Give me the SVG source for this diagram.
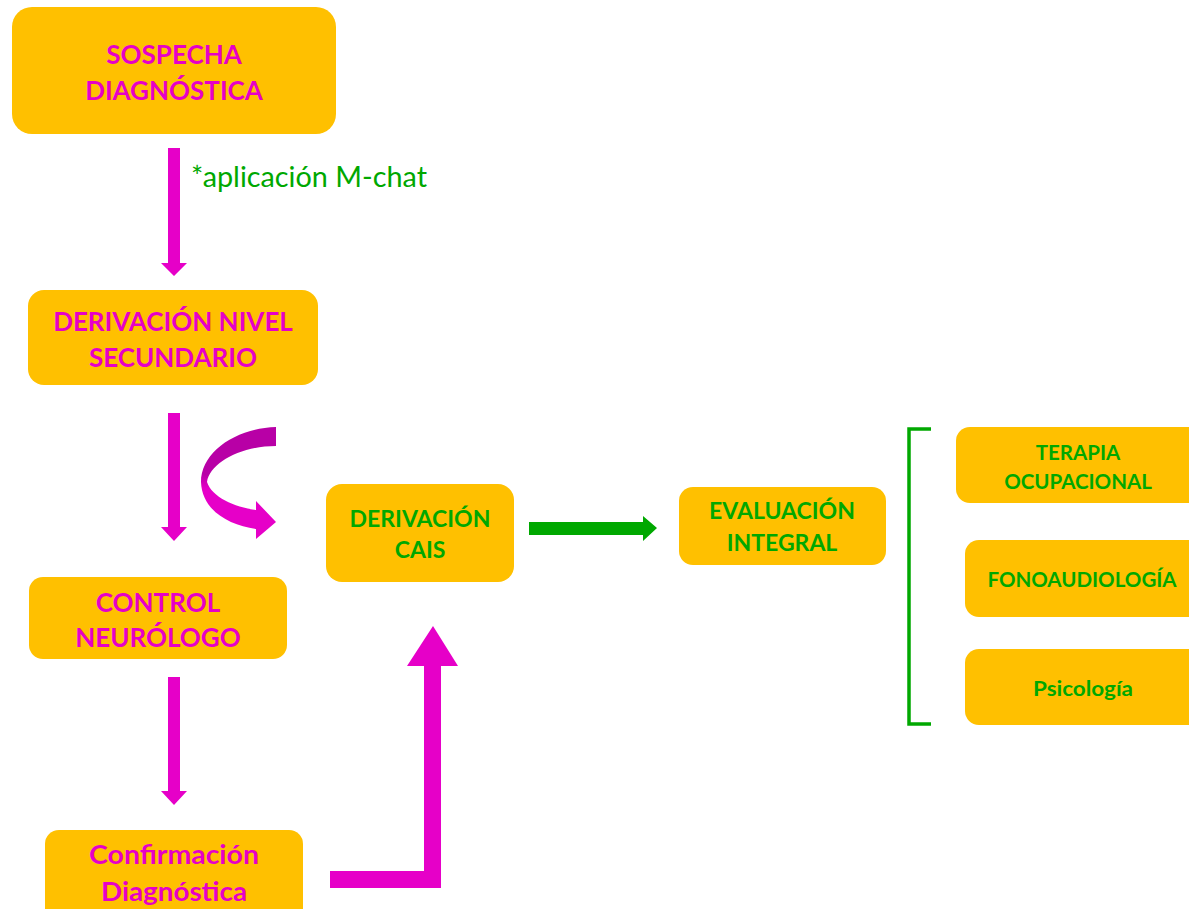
<svg xmlns="http://www.w3.org/2000/svg" width="1189" height="909" viewBox="0 0 1189 909">
<style>
.box{fill:#FFC000}
.t{font-family:Lato,"Liberation Sans",sans-serif;font-weight:bold;text-anchor:middle}
.m{fill:#E600C8}
.g{fill:#00A800}
.big{font-size:26px}
.mid{font-size:23px}
.sm{font-size:20.5px}
.arrow{fill:#E600C8}
</style>
<defs>
<linearGradient id="cg" x1="0" y1="427" x2="0" y2="540" gradientUnits="userSpaceOnUse">
<stop offset="0" stop-color="#B800A6"/>
<stop offset="0.42" stop-color="#B800A6"/>
<stop offset="0.55" stop-color="#E600C8"/>
<stop offset="1" stop-color="#E600C8"/>
</linearGradient>
</defs>
<rect width="1189" height="909" fill="#fff"/>
<g id="connectors">
<path class="arrow" d="M168,148 H180 V263 H187 L174,276 L161,263 H168 Z"/>
<path class="arrow" d="M168,413 H180 V527 H187 L174,541 L161,527 H168 Z"/>
<path class="arrow" d="M168,677 H180 V791 H187 L174,805 L161,791 H168 Z"/>
<path fill="url(#cg)" d="M276,427 C236,428 201,452 201,482 C202,510 228,525 256,529 L256,539 L276,522 L256,501 L256,510 C234,507 212,497 207,482 C210,463 240,446 276,446 Z"/>
<path class="arrow" d="M330,871 H424 V666 H407 L433,626 L458,666 H441 V888 H330 Z"/>
<path fill="#00A800" d="M529,522 H643 V516 L657,528 L643,541 V535 H529 Z"/>
<path fill="none" stroke="#00A800" stroke-width="3.5" d="M931,429 H909 V724 H931"/>
</g>
<text x="191" y="187" font-family="Lato,'Liberation Sans',sans-serif" font-size="28" fill="#00A800" textLength="236" lengthAdjust="spacingAndGlyphs">*aplicación M-chat</text>
<g id="n1"><rect class="box" x="12" y="7" width="324" height="127" rx="20"/>
<text class="t m big" x="174" y="64">SOSPECHA</text><text class="t m big" x="174" y="100">DIAGNÓSTICA</text></g>
<g id="n2"><rect class="box" x="28" y="290" width="290" height="95" rx="16"/>
<text class="t m big" x="173" y="331">DERIVACIÓN NIVEL</text><text class="t m big" x="173" y="367">SECUNDARIO</text></g>
<g id="n3"><rect class="box" x="29" y="577" width="258" height="82" rx="14"/>
<text class="t m big" x="158" y="612">CONTROL</text><text class="t m big" x="158" y="647">NEURÓLOGO</text></g>
<g id="n4"><rect class="box" x="45" y="830" width="258" height="100" rx="14"/>
<text class="t m big" x="174" y="864" textLength="170" lengthAdjust="spacingAndGlyphs">Confirmación</text><text class="t m big" x="174" y="901" textLength="146" lengthAdjust="spacingAndGlyphs">Diagnóstica</text></g>
<g id="n5"><rect class="box" x="326" y="484" width="188" height="98" rx="16"/>
<text class="t g mid" x="420" y="527">DERIVACIÓN</text><text class="t g mid" x="420" y="558">CAIS</text></g>
<g id="n6"><rect class="box" x="679" y="487" width="207" height="78" rx="14"/>
<text class="t g mid" x="782" y="519">EVALUACIÓN</text><text class="t g mid" x="782" y="551">INTEGRAL</text></g>
<g id="n7"><rect class="box" x="956" y="427" width="250" height="76" rx="14"/>
<text class="t g sm" x="1078" y="460">TERAPIA</text><text class="t g sm" x="1078" y="489">OCUPACIONAL</text></g>
<g id="n8"><rect class="box" x="965" y="540" width="250" height="77" rx="14"/>
<text class="t g sm" x="1082" y="587">FONOAUDIOLOGÍA</text></g>
<g id="n9"><rect class="box" x="965" y="649" width="250" height="76" rx="14"/>
<text class="t g sm" x="1083" y="696" textLength="100" lengthAdjust="spacingAndGlyphs">Psicología</text></g>
</svg>
